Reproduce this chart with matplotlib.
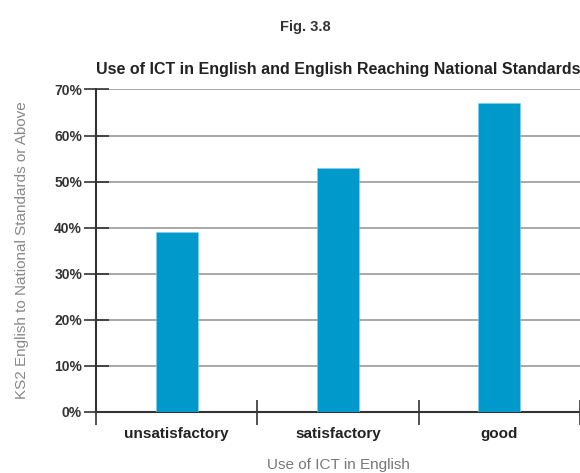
import matplotlib
matplotlib.use("Agg")
import matplotlib.pyplot as plt
from matplotlib.ticker import FixedLocator

categories = ["unsatisfactory", "satisfactory", "good"]
values = [39, 53, 67]
yticks = [0, 10, 20, 30, 40, 50, 60, 70]
ytick_labels = ["0%", "10%", "20%", "30%", "40%", "50%", "60%", "70%"]

plt.rcParams['font.family'] = ['Liberation Sans', 'DejaVu Sans']

fig = plt.figure(figsize=(5.8, 4.73), dpi=100)
ax = fig.add_axes([96/580, 1-411.7/473, 484/580, (411.7-89.5)/473])

x = [i + 0.5 for i in range(len(categories))]
ax.bar(x, values, width=0.26, color="#0099CC", zorder=3, edgecolor="#7fcfee", linewidth=0.4)

ax.set_xlim(0, 3)
ax.set_ylim(0, 70)
ax.set_yticks(yticks)
ax.set_yticklabels(ytick_labels)
ax.xaxis.set_major_locator(FixedLocator([0, 1, 2, 3]))
ax.set_xticklabels([])
ax.xaxis.set_minor_locator(FixedLocator(x))
ax.set_xticklabels(categories, minor=True)
ax.tick_params(axis='x', which='minor', length=0, pad=11, labelsize=11, labelcolor="#222222")
ax.tick_params(axis='x', which='major', direction='inout', length=18, width=1.2, color="#333333")
ax.tick_params(axis='y', direction='inout', length=18, width=1.2, color="#333333",
               labelsize=10, labelcolor="#333333", pad=1)
for lab in ax.get_xticklabels(minor=True):
    lab.set_fontweight('bold')
for lab in ax.get_yticklabels():
    lab.set_fontweight('bold')

ax.grid(axis='y', color="#999999", linewidth=1.2, zorder=0)
for s in ['top', 'right']:
    ax.spines[s].set_visible(False)
for s in ['left', 'bottom']:
    ax.spines[s].set_color("#333333")
    ax.spines[s].set_linewidth(1.5)

ax.set_title("Use of ICT in English and English Reaching National Standards",
             fontsize=11.5, fontweight='bold', color="#222222", pad=11)
ax.set_xlabel("Use of ICT in English", fontsize=11, color="#777777", labelpad=12)
ax.set_ylabel("KS2 English to National Standards or Above", fontsize=11, color="#888888", labelpad=18)
fig.text(305/580, 1-27/473, "Fig. 3.8", ha='center', va='center', fontsize=10.5,
         fontweight='bold', color="#333333")

fig.savefig("out.png", dpi=100)
